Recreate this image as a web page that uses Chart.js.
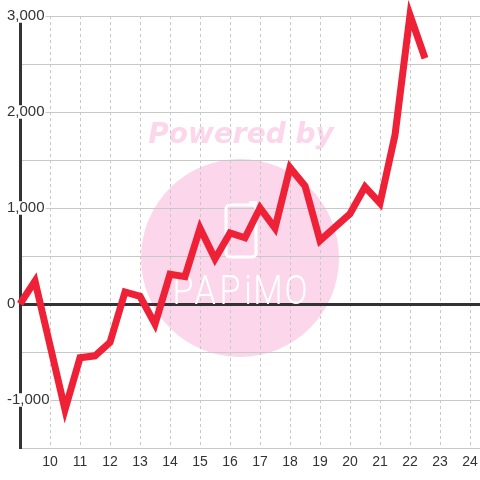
<!DOCTYPE html>
<html>
<head>
<meta charset="utf-8">
<script src="https://cdn.jsdelivr.net/npm/chart.js@4/dist/chart.umd.min.js"></script>
<style>
  html, body { margin: 0; padding: 0; background: #ffffff; }
  canvas { display: block; }
</style>
</head>
<body>
<canvas id="c" width="480" height="480"></canvas>
<script>
// ---- data ----
const xValues = [9, 9.5, 10, 10.5, 11, 11.5, 12, 12.5, 13, 13.5, 14, 14.5, 15, 15.5,
                 16, 16.5, 17, 17.5, 18, 18.5, 19, 19.5, 20, 20.5, 21, 21.5, 22, 22.5];
const yValues = [0, 240, -430, -1100, -560, -540, -400, 125, 80, -210, 310, 285, 790, 470,
                 740, 690, 1000, 790, 1420, 1230, 660, 800, 940, 1220, 1050, 1760, 3010, 2560];
const xMin = 9, xMax = 24.333, xStep = 1;
const yMin = -1500, yMax = 3000, yStep = 500, yLabelEvery = 1000;

const points = xValues.map((x, i) => ({ x: x, y: yValues[i] }));

const watermark = {
  id: 'watermark',
  beforeDraw(chart) {
    const ctx = chart.ctx;
    ctx.save();
    ctx.fillStyle = '#ffffff';
    ctx.fillRect(0, 0, chart.width, chart.height);
    ctx.fillStyle = '#fcd6eb';
    ctx.beginPath();
    ctx.arc(240, 258, 99, 0, Math.PI * 2);
    ctx.fill();
    ctx.font = 'italic bold 28px "DejaVu Sans"';
    ctx.textAlign = 'center';
    ctx.textBaseline = 'alphabetic';
    ctx.fillText('Powered by', 241, 143);
    ctx.restore();
  },
  beforeDatasetsDraw(chart) {
    const ctx = chart.ctx;
    ctx.save();
    ctx.strokeStyle = '#ffffff';
    ctx.lineWidth = 3;
    ctx.beginPath();
    ctx.roundRect(226, 205, 30, 52, 4);
    ctx.stroke();
    ctx.fillStyle = '#ffffff';
    ctx.fillRect(249, 201, 8, 4);
    const letters = ['P', 'A', 'P', 'i', 'M', 'O'];
    const centers = [183, 205, 230, 248, 268, 296];
    ctx.font = '300 40px Roboto';
    ctx.textAlign = 'center';
    ctx.textBaseline = 'alphabetic';
    letters.forEach((ch, i) => {
      ctx.save();
      ctx.translate(centers[i], 304);
      ctx.scale(0.85, 1);
      ctx.fillText(ch, 0, 0);
      ctx.restore();
    });
    ctx.restore();
  }
};

Chart.defaults.font.family = '"Liberation Sans", Arial, sans-serif';
Chart.defaults.color = '#333333';

new Chart(document.getElementById('c'), {
  type: 'line',
  data: {
    datasets: [{
      data: points,
      borderColor: '#ee2137',
      borderWidth: 7,
      pointRadius: 0,
      tension: 0,
      fill: false,
      borderJoinStyle: 'miter',
      borderCapStyle: 'butt',
      clip: false
    }]
  },
  options: {
    responsive: false,
    animation: false,
    devicePixelRatio: 1,
    layout: { padding: { left: 20, right: 0, top: 16, bottom: 4 } },
    plugins: { legend: { display: false }, tooltip: { enabled: false } },
    scales: {
      x: {
        type: 'linear',
        min: xMin,
        max: xMax,
        afterBuildTicks: (scale) => { scale.ticks = scale.ticks.filter(t => t.value >= 10); },
        ticks: {
          stepSize: xStep,
          includeBounds: false,
          autoSkip: false,
          maxRotation: 0,
          padding: 0,
          color: '#333333',
          font: { size: 14, lineHeight: 2 }
        },
        grid: { color: '#c8c8c8', lineWidth: 1, drawTicks: false },
        border: { display: false, dash: [3, 3] }
      },
      y: {
        type: 'linear',
        min: yMin,
        max: yMax,
        afterFit: (scale) => { scale.width = 0; },
        ticks: {
          stepSize: yStep,
          mirror: true,
          padding: -13,
          autoSkip: false,
          color: '#333333',
          font: { size: 15, lineHeight: 0.9 },
          showLabelBackdrop: true,
          backdropColor: '#ffffff',
          backdropPadding: { top: 0, bottom: 0, left: 1, right: 1 },
          callback: (v) => (v % yLabelEvery === 0 ? v.toLocaleString('en-US') : '')
        },
        grid: {
          drawTicks: false,
          color: (c) => (c.tick && c.tick.value === 0 ? '#333333' : '#c8c8c8'),
          lineWidth: (c) => (c.tick && c.tick.value === 0 ? 3 : 1)
        },
        border: { display: true, color: '#333333', width: 3 }
      }
    }
  },
  plugins: [watermark]
});
</script>
</body>
</html>
